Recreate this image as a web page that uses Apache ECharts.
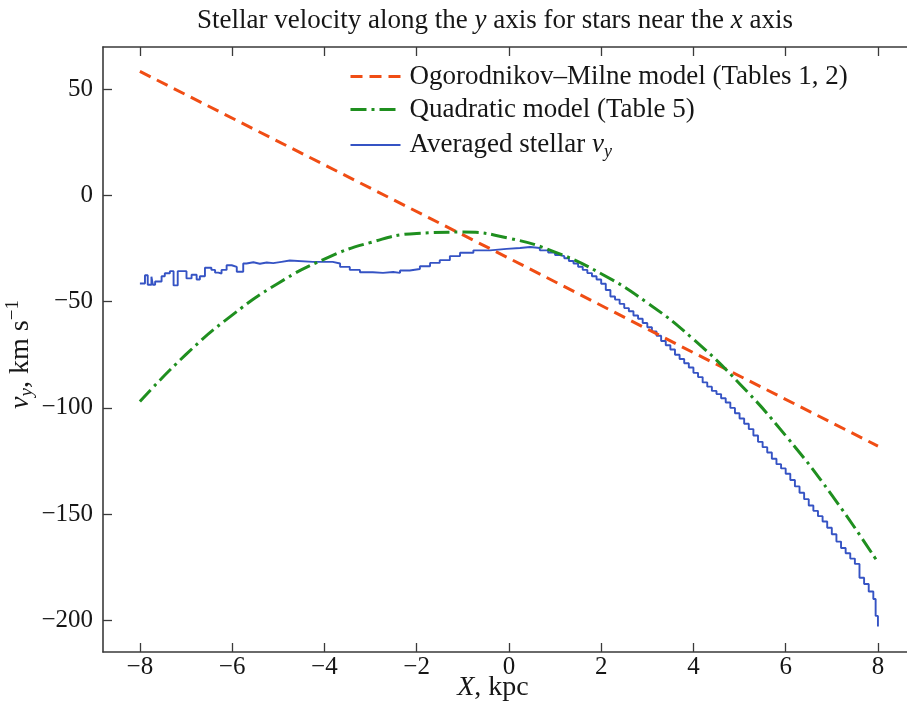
<!DOCTYPE html>
<html>
<head>
<meta charset="utf-8">
<script src="https://cdn.jsdelivr.net/npm/echarts@6/dist/echarts.min.js"></script>
<style>html,body{margin:0;padding:0;background:#fff}#c{width:907px;height:710px}</style>
</head>
<body>
<div id="c"></div>
<script>
// ---- data ----
const xTicks = [-8, -6, -4, -2, 0, 2, 4, 6, 8];
const yTicks = [-200, -150, -100, -50, 0, 50];

const omX = [-8, -4, 0, 4, 8];
const omY = [58.5, 14.5, -29.5, -74, -118];

const quadX = [-8, -7, -6, -5, -4, -3, -2, -1, 0, 1, 2, 3, 4, 5, 6, 7, 8];
const quadY = [-97.0, -74.8, -56.3, -41.3, -29.9, -22.1, -17.8, -17.2, -20.1, -26.6, -36.8, -50.5, -67.7, -88.6, -113.1, -141.1, -172.8];

const starX = [-8.0, -7.89, -7.83, -7.75, -7.72, -7.67, -7.53, -7.46, -7.35, -7.27, -7.24, -7.18, -6.99, -6.88, -6.77, -6.70, -6.59, -6.45, -6.37, -6.30, -6.23, -6.12, -6.01, -5.90, -5.76, -5.69, -5.54, -5.40, -5.25, -5.11, -4.93, -4.75, -4.25, -3.82, -3.66, -3.45, -3.23, -2.95, -2.73, -2.51, -2.36, -2.15, -1.93, -1.71, -1.50, -1.28, -1.06, -0.77, -0.41, -0.05, 0.24, 0.46, 0.67, 0.85, 1.0,
  1.1, 1.2, 1.3, 1.4, 1.5, 1.6, 1.7, 1.8, 1.9, 2.0, 2.1, 2.2, 2.3, 2.4, 2.5, 2.6, 2.7, 2.8, 2.9, 3.0, 3.1, 3.2, 3.3, 3.4, 3.5, 3.6, 3.7, 3.8, 3.9, 4.0, 4.1, 4.2, 4.3, 4.4, 4.5, 4.6, 4.7, 4.8, 4.9, 5.0, 5.1, 5.2, 5.3, 5.4, 5.5, 5.6, 5.7, 5.8, 5.9, 6.0, 6.1, 6.2, 6.3, 6.4, 6.5, 6.6, 6.7, 6.8, 6.9, 7.0, 7.1, 7.2, 7.3, 7.4, 7.5, 7.6, 7.7, 7.8, 7.9, 7.95, 8.0];
const starY = [-41.4, -37.5, -42.0, -38.2, -42.0, -40.5, -38.0, -36.6, -35.6, -42.3, -42.3, -35.6, -39.0, -37.3, -39.5, -38.0, -34.0, -35.0, -36.3, -36.7, -35.0, -32.8, -33.6, -35.9, -32.0, -31.4, -32.1, -31.5, -31.8, -31.2, -30.6, -31.2, -31.2, -32.0, -33.6, -35.0, -36.1, -36.4, -36.0, -36.4, -35.3, -34.6, -33.3, -31.7, -30.4, -28.5, -26.9, -25.8, -25.1, -24.7, -24.2, -24.7, -25.8, -26.8, -28.0,
  -28.5, -29.5, -30.8, -32.0, -33.5, -35.0, -36.5, -38.0, -39.5, -41.5, -44.5, -47.5, -49.0, -51.0, -53.0, -54.5, -56.5, -58.0, -60.0, -62.0, -64.0, -66.0, -68.5, -70.5, -72.5, -75.0, -77.0, -79.0, -81.0, -83.5, -85.5, -88.0, -90.0, -92.0, -93.5, -95.5, -97.5, -100.0, -102.5, -105.0, -107.5, -110.0, -113.0, -116.0, -118.5, -121.0, -124.0, -126.5, -128.5, -131.0, -134.0, -137.0, -140.0, -143.0, -146.0, -148.5, -151.0, -153.5, -156.5, -159.5, -163.0, -166.0, -168.5, -171.0, -173.5, -180.0, -183.0, -186.5, -190.0, -198.0, -203.0];

const seriesNames = ['Ogorodnikov\u2013Milne model (Tables 1, 2)', 'Quadratic model (Table 5)', 'Averaged stellar vy'];

// ---- chart ----
const FONT = 'Liberation Serif';
const zip = (xs, ys) => xs.map((x, i) => [x, ys[i]]);
const minus = v => String(v).replace('-', '\u2212');
const axisColor = '#3a3a3a';
const txt = '#161616';
const cOM = '#f04d14', cQ = '#1f8f1f', cS = '#3553c4';
const dashOM = [12, 7], dashQ = [16, 5, 3, 5];

const chart = echarts.init(document.getElementById('c'), null, {renderer: 'canvas'});

const baseX = {
  type: 'value', min: -8.8, max: 8.63,
  axisLine: {show: true, onZero: false, lineStyle: {color: axisColor, width: 1.6}},
  splitLine: {show: false}
};
const baseY = {
  type: 'value', min: -215, max: 70,
  axisLine: {show: true, onZero: false, lineStyle: {color: axisColor, width: 1.6}},
  splitLine: {show: false}
};

chart.setOption({
  backgroundColor: '#fff',
  animation: false,
  title: {
    text: '{n|Stellar velocity along the }{i|y}{n| axis for stars near the }{i|x}{n| axis}',
    left: 192, top: 2,
    textStyle: {
      fontWeight: 'normal',
      rich: {
        n: {fontFamily: FONT, fontSize: 27, fontWeight: 'normal', color: txt},
        i: {fontFamily: FONT, fontSize: 27, fontWeight: 'normal', fontStyle: 'italic', color: txt}
      }
    }
  },
  legend: {
    orient: 'vertical', left: 344, top: 58,
    itemWidth: 50, itemHeight: 14, itemGap: 6,
    itemStyle: {opacity: 0},
    data: [
      {name: seriesNames[0], lineStyle: {color: cOM, width: 3, type: dashOM}},
      {name: seriesNames[1], lineStyle: {color: cQ, width: 3, type: dashQ}},
      {name: seriesNames[2], lineStyle: {color: cS, width: 2, type: 'solid'}}
    ],
    formatter: n => n === 'Averaged stellar vy' ? '{n|Averaged stellar }{i|v}{s|y}' : '{n|' + n + '}',
    textStyle: {
      padding: [0, 0, 0, 4],
      rich: {
        n: {fontFamily: FONT, fontSize: 27, color: txt, lineHeight: 28},
        i: {fontFamily: FONT, fontSize: 27, fontStyle: 'italic', color: txt, lineHeight: 28},
        s: {fontFamily: FONT, fontSize: 18, fontStyle: 'italic', color: txt, lineHeight: 28, padding: [14, 0, 0, 0]}
      }
    }
  },
  grid: {left: 103, right: 0, top: 47, bottom: 58, outerBoundsMode: 'none'},
  xAxis: [
    Object.assign({}, baseX, {
      position: 'bottom',
      name: '{i|X}{n|, kpc}', nameLocation: 'middle', nameGap: 22, nameMoveOverlap: false,
      nameTextStyle: {padding: [0, 24, 0, 0], rich: {
        i: {fontFamily: FONT, fontSize: 28, fontStyle: 'italic', color: txt},
        n: {fontFamily: FONT, fontSize: 28, color: txt}
      }},
      axisTick: {show: true, inside: true, length: 9, lineStyle: {color: axisColor, width: 1.3}, customValues: xTicks},
      axisLabel: {show: true, margin: 3, fontFamily: FONT, fontSize: 25, color: txt, customValues: xTicks, formatter: minus}
    }),
    Object.assign({}, baseX, {
      position: 'top',
      axisTick: {show: true, inside: true, length: 9, lineStyle: {color: axisColor, width: 1.3}, customValues: xTicks},
      axisLabel: {show: false}
    })
  ],
  yAxis: [
    Object.assign({}, baseY, {
      position: 'left',
      name: '{i|v}{s|y}{n|, km s}{p|\u22121}', nameLocation: 'middle', nameGap: 66, nameMoveOverlap: false,
      nameRotate: 90,
      nameTextStyle: {padding: [0, 10, 0, 0], rich: {
        i: {fontFamily: FONT, fontSize: 28, fontStyle: 'italic', color: txt},
        s: {fontFamily: FONT, fontSize: 19, fontStyle: 'italic', color: txt, padding: [12, 0, 0, 0]},
        n: {fontFamily: FONT, fontSize: 28, color: txt},
        p: {fontFamily: FONT, fontSize: 19, color: txt, padding: [0, 0, 14, 0]}
      }},
      axisTick: {show: true, inside: true, length: 9, lineStyle: {color: axisColor, width: 1.3}, customValues: yTicks},
      axisLabel: {show: true, margin: 10, fontFamily: FONT, fontSize: 25, color: txt, customValues: yTicks, formatter: minus}
    }),
    Object.assign({}, baseY, {
      position: 'right', show: false
    })
  ],
  series: [
    {
      name: seriesNames[0], type: 'line', symbol: 'none',
      data: zip(omX, omY),
      lineStyle: {color: cOM, width: 3, type: dashOM},
      itemStyle: {color: cOM}, z: 3
    },
    {
      name: seriesNames[1], type: 'line', symbol: 'none', smooth: true,
      data: zip(quadX, quadY),
      lineStyle: {color: cQ, width: 3, type: dashQ},
      itemStyle: {color: cQ}, z: 3
    },
    {
      name: seriesNames[2], type: 'line', symbol: 'none', step: 'end',
      data: zip(starX, starY),
      lineStyle: {color: cS, width: 1.9},
      itemStyle: {color: cS}, z: 2
    }
  ]
});
</script>
</body>
</html>
